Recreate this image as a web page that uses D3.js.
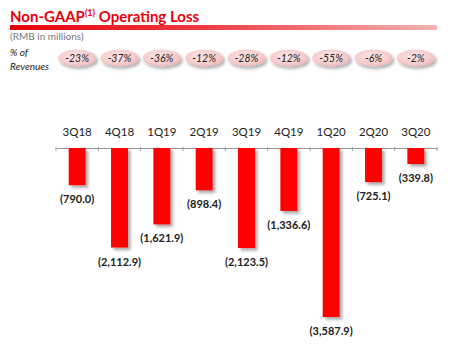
<!DOCTYPE html>
<html><head><meta charset="utf-8">
<script src="https://cdn.jsdelivr.net/npm/d3@7"></script>
<style>body{margin:0;background:#fff}svg{display:block}</style>
</head><body>
<script>
const categories = ["3Q18","4Q18","1Q19","2Q19","3Q19","4Q19","1Q20","2Q20","3Q20"];
const losses = [-790.0,-2112.9,-1621.9,-898.4,-2123.5,-1336.6,-3587.9,-725.1,-339.8];
const pctRevenue = ["-23%","-37%","-36%","-12%","-28%","-12%","-55%","-6%","-2%"];
const fmt = v => "(" + d3.format(",.1f")(Math.abs(v)) + ")";

const W=452,H=352;
const svg=d3.select("body").append("svg").attr("width",W).attr("height",H);
const defs=svg.append("defs");
const lg=defs.append("linearGradient").attr("id","tg");
lg.append("stop").attr("offset","0%").attr("stop-color","#e8000a");
lg.append("stop").attr("offset","45%").attr("stop-color","#ee3a40");
lg.append("stop").attr("offset","100%").attr("stop-color","#f6b4b4");
const rg=defs.append("radialGradient").attr("id","pg").attr("cx","45%").attr("cy","40%").attr("r","60%");
rg.append("stop").attr("offset","0%").attr("stop-color","#fbe4e4");
rg.append("stop").attr("offset","75%").attr("stop-color","#f5cccc");
rg.append("stop").attr("offset","100%").attr("stop-color","#ebb6b6");
const f=defs.append("filter").attr("id","sh").attr("x","-30%").attr("y","-30%").attr("width","170%").attr("height","170%");
f.append("feDropShadow").attr("dx",2.5).attr("dy",2.5).attr("stdDeviation",1.5).attr("flood-color","#000").attr("flood-opacity",0.35);
const f2=defs.append("filter").attr("id","sh2").attr("x","-30%").attr("y","-30%").attr("width","170%").attr("height","170%");
f2.append("feDropShadow").attr("dx",2).attr("dy",2.5).attr("stdDeviation",1.5).attr("flood-color","#000").attr("flood-opacity",0.3);

const font="Lato, 'Open Sans', sans-serif";
// title
const t=svg.append("text").attr("x",10).attr("y",21.5).attr("fill","#e8000a").attr("font-family",font).attr("font-weight","bold").attr("font-size",15);
t.append("tspan").text("Non-GAAP");
t.append("tspan").attr("font-size",9).attr("dy",-5.5).text("(1)");
t.append("tspan").attr("dy",5.5).text(" Operating Loss");
svg.append("rect").attr("x",10).attr("y",25).attr("width",427).attr("height",5).attr("fill","url(#tg)");
svg.append("text").attr("x",10).attr("y",40).attr("fill","#777").attr("font-family",font).attr("font-size",10).text("(RMB in millions)");
svg.append("text").attr("x",10).attr("y",56).attr("fill","#222").attr("font-family",font).attr("font-style","italic").attr("font-size",10).text("% of");
svg.append("text").attr("x",10).attr("y",70).attr("fill","#222").attr("font-family",font).attr("font-style","italic").attr("font-size",10).text("Revenues");

const x=d3.scaleBand().domain(categories).range([56,437]).paddingInner(0.6).paddingOuter(0.3);
const xc=d3.scaleBand().domain(categories).range([56,437]);
const y=d3.scaleLinear().domain([0,-3587.9]).range([148,317]);

// pills
const pills=svg.append("g").selectAll("g").data(categories).join("g")
  .attr("transform",d=>`translate(${xc(d)+xc.bandwidth()/2},58)`);
pills.append("ellipse").attr("rx",19).attr("ry",8.5).attr("fill","url(#pg)").attr("filter","url(#sh2)");
pills.append("text").attr("text-anchor","middle").attr("dy",3.5).attr("fill","#222").attr("font-family",font).attr("font-style","italic").attr("font-size",10.5).text((d,i)=>pctRevenue[i]);

// axis
const ax=svg.append("g").attr("transform","translate(0,148)")
  .call(d3.axisBottom(xc).tickSize(0).tickSizeOuter(0).tickFormat(""));
ax.select(".domain").attr("stroke","#999");
const tickXs=d3.range(categories.length+1).map(i=>56+i*xc.step());
svg.append("g").selectAll("line").data(tickXs).join("line")
  .attr("x1",d=>d).attr("x2",d=>d).attr("y1",147).attr("y2",151).attr("stroke","#999");

svg.append("g").selectAll("text").data(categories).join("text")
  .attr("x",d=>xc(d)+xc.bandwidth()/2).attr("y",136).attr("text-anchor","middle")
  .attr("fill","#222").attr("font-family",font).attr("font-size",11.5).text(d=>d);

// bars
svg.append("g").selectAll("rect").data(losses).join("rect")
  .attr("x",(d,i)=>x(categories[i])).attr("width",x.bandwidth())
  .attr("y",y(0)).attr("height",d=>y(d)-y(0))
  .attr("fill","#ff0000").attr("filter","url(#sh)");

svg.append("g").selectAll("text").data(losses).join("text")
  .attr("x",(d,i)=>xc(categories[i])+xc.bandwidth()/2).attr("y",d=>y(d)+18)
  .attr("text-anchor","middle").attr("fill","#222").attr("font-family",font)
  .attr("font-weight","bold").attr("font-size",11).text(d=>fmt(d));
</script>
</body></html>
